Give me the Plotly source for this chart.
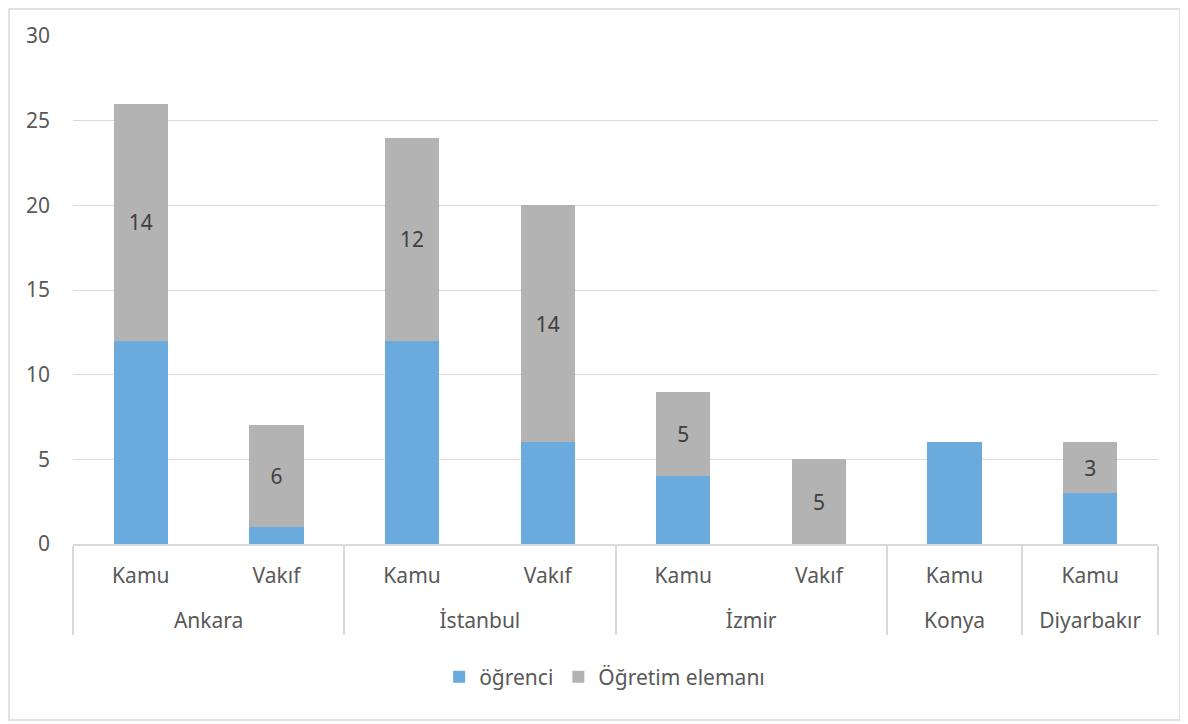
import plotly.graph_objects as go

# Data
cities = ["Ankara", "Ankara", "İstanbul", "İstanbul", "İzmir", "İzmir", "Konya", "Diyarbakır"]
types = ["Kamu", "Vakıf", "Kamu", "Vakıf", "Kamu", "Vakıf", "Kamu", "Kamu"]
ogrenci = [12, 1, 12, 6, 4, 0, 6, 3]
ogretim_elemani = [14, 6, 12, 14, 5, 5, 0, 3]
y_ticks = [0, 5, 10, 15, 20, 25, 30]

font_family = "Noto Sans, DejaVu Sans, sans-serif"
text_gray = "#595959"
font_size = 21

# leading line break pushes the city row further below the type row
city_labels = ["<br>" + c for c in cities]

fig = go.Figure()

fig.add_trace(go.Bar(
    x=[city_labels, types],
    y=ogrenci,
    name="öğrenci",
    marker=dict(color="#6BAADC", line=dict(width=0)),
))

fig.add_trace(go.Bar(
    x=[city_labels, types],
    y=ogretim_elemani,
    name="Öğretim elemanı",
    marker=dict(color="#B3B3B3", line=dict(width=0)),
    text=[str(v) if v else "" for v in ogretim_elemani],
    textposition="inside",
    insidetextanchor="middle",
    textfont=dict(color="#404040", size=font_size, family=font_family),
))

# Outer chart border (figure is offset by the page's 8px body margin)
fig.add_shape(
    type="rect", xref="paper", yref="paper",
    x0=-64 / 1085, x1=1107 / 1085, y0=-176 / 508, y1=535 / 508,
    line=dict(color="#D9D9D9", width=1.5),
    layer="below",
)

fig.update_layout(
    width=1180, height=716,
    barmode="stack",
    bargap=0.6,
    margin=dict(l=65, r=30, t=28, b=180),
    plot_bgcolor="white",
    paper_bgcolor="white",
    font=dict(family=font_family, size=font_size, color=text_gray),
    showlegend=True,
    legend=dict(
        orientation="h",
        x=0.49, xanchor="center",
        y=-0.262, yanchor="middle",
        font=dict(size=font_size, color=text_gray),
        itemwidth=30,
        traceorder="normal",
    ),
    uniformtext=dict(mode="show", minsize=font_size - 2),
)

fig.update_xaxes(
    type="multicategory",
    showgrid=False,
    showline=True,
    linecolor="#D9D9D9",
    linewidth=1.5,
    showdividers=True,
    dividercolor="#D9D9D9",
    dividerwidth=1.5,
    tickfont=dict(size=font_size, color=text_gray),
    ticks="",
    ticklabelstandoff=12,
)

fig.update_yaxes(
    range=[0, 30],
    tickvals=y_ticks,
    showgrid=True,
    gridcolor="#D9D9D9",
    gridwidth=1,
    zeroline=False,
    showline=False,
    tickfont=dict(size=font_size, color=text_gray),
    ticklabelstandoff=22,
)

fig.write_html("out.html")
